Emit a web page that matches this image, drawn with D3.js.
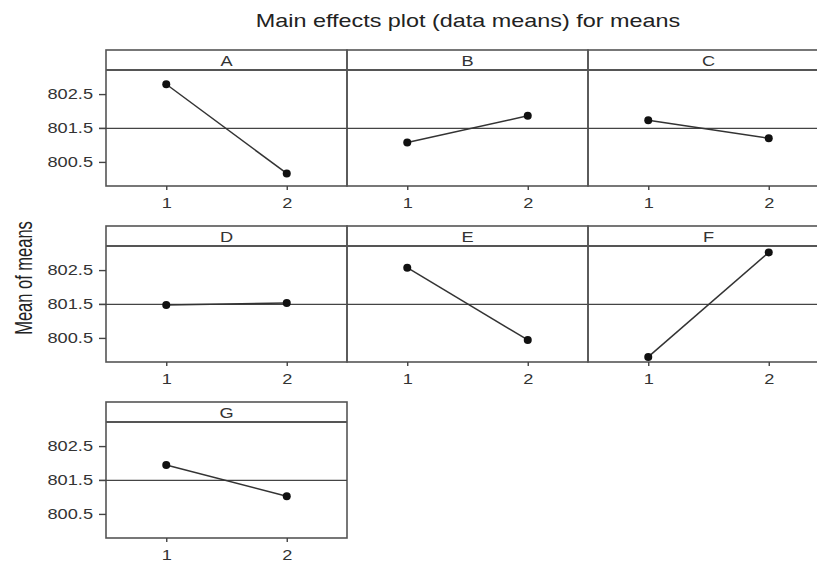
<!DOCTYPE html>
<html>
<head>
<meta charset="utf-8">
<script src="https://cdn.jsdelivr.net/npm/d3@7"></script>
<style>
  body { margin: 0; background: #fff; }
  svg { display: block; font-family: "Liberation Sans", Arial, sans-serif; }
</style>
</head>
<body>
<svg id="chart"></svg>
<script>
(function() {
  // factors, one panel each
  var factors = ['A', 'B', 'C', 'D', 'E', 'F', 'G'];
  var levels = [1, 2];
  // mean at level 1 / level 2
  var level1Means = [802.79, 801.07, 801.73, 801.47, 802.57, 799.94, 801.94];
  var level2Means = [800.16, 801.86, 801.20, 801.53, 800.44, 803.02, 801.02];
  var grandMean = 801.49;
  var yTicks = [800.5, 801.5, 802.5];

  var width = 817;
  var height = 567;
  // horizontal stretch of the text in the picture
  var sx = 1.3;

  var cols = 3;
  var panelLeft = 106;
  var panelW = 241;
  var rowTop = 50;
  var rowStep = 176;
  var stripH = 20;
  var plotH = 116;
  var stroke = '#555';

  var svg = d3.select('#chart')
    .attr('width', width)
    .attr('height', height);

  // 标题
  svg.append('text')
    .attr('transform', 'translate(468,27) scale(' + sx + ',1)')
    .attr('text-anchor', 'middle')
    .attr('font-size', 18)
    .attr('fill', '#222')
    .text('Main effects plot (data means) for means');

  svg.append('text')
    .attr('transform', 'translate(32,278) scale(1.4,1) rotate(-90)')
    .attr('text-anchor', 'middle')
    .attr('font-size', 16.5)
    .attr('fill', '#222')
    .text('Mean of means');

  var x = d3.scaleLinear()
    .domain([0.5, 2.5])
    .range([0, panelW]);

  var y = d3.scaleLinear()
    .domain([799.79, 803.21])
    .range([plotH, 0]);

  var data = factors.map(function(f, i) {
    return {
      name: f,
      col: i % cols,
      row: Math.floor(i / cols),
      values: [level1Means[i], level2Means[i]]
    };
  });

  var gs = svg.selectAll('g.panel')
    .data(data)
    .enter()
    .append('g')
    .attr('class', 'panel')
    .attr('transform', function(d) {
      return 'translate(' + (panelLeft + d.col * panelW) + ',' + (rowTop + d.row * rowStep) + ')';
    });

  // 条带
  gs.append('rect')
    .attr('width', panelW)
    .attr('height', stripH + plotH)
    .attr('fill', 'none')
    .attr('stroke', stroke)
    .attr('stroke-width', 1.6);

  gs.append('line')
    .attr('x1', 0)
    .attr('x2', panelW)
    .attr('y1', stripH)
    .attr('y2', stripH)
    .attr('stroke', stroke)
    .attr('stroke-width', 2);

  gs.append('text')
    .attr('transform', 'translate(' + panelW / 2 + ',16) scale(' + sx + ',1)')
    .attr('text-anchor', 'middle')
    .attr('font-size', 14)
    .attr('fill', '#333')
    .text(function(d) { return d.name; });

  var plots = gs.append('g')
    .attr('transform', 'translate(0,' + stripH + ')');

  // 总均值参考线
  plots.append('line')
    .attr('x1', function(d) { return d.col === 0 ? -7 : 0; })
    .attr('x2', panelW)
    .attr('y1', y(grandMean))
    .attr('y2', y(grandMean))
    .attr('stroke', '#444')
    .attr('stroke-width', 1.4);

  // x 轴
  plots.append('g')
    .attr('class', 'x-axis')
    .attr('transform', 'translate(0,' + plotH + ')')
    .each(function() {
      d3.select(this).call(d3.axisBottom(x).tickValues(levels).tickSize(4).tickPadding(8).tickFormat(d3.format('d')));
    });

  // y 轴
  plots.filter(function(d) { return d.col === 0; })
    .append('g')
    .attr('class', 'y-axis')
    .each(function() {
      d3.select(this).call(d3.axisLeft(y).tickValues(yTicks).tickSize(7).tickPadding(3).tickFormat(d3.format('.1f')));
    });

  svg.selectAll('.x-axis .domain, .y-axis .domain').remove();
  svg.selectAll('.x-axis .tick line, .y-axis .tick line')
    .attr('stroke', '#444')
    .attr('stroke-width', 1.4);
  svg.selectAll('.x-axis text, .y-axis text')
    .attr('transform', 'scale(' + sx + ',1)')
    .attr('font-family', '"Liberation Sans", Arial, sans-serif')
    .attr('font-size', 14)
    .attr('fill', '#333');

  // 均值连线
  var line = d3.line()
    .x(function(v, i) { return x(levels[i]); })
    .y(function(v) { return y(v); });

  plots.append('path')
    .attr('d', function(d) { return line(d.values); })
    .attr('fill', 'none')
    .attr('stroke', '#333')
    .attr('stroke-width', 1.5);

  plots.selectAll('circle')
    .data(function(d) { return d.values; })
    .enter()
    .append('circle')
    .attr('cx', function(v, i) { return x(levels[i]); })
    .attr('cy', function(v) { return y(v); })
    .attr('r', 4)
    .attr('fill', '#111');
}());
</script>
</body>
</html>
